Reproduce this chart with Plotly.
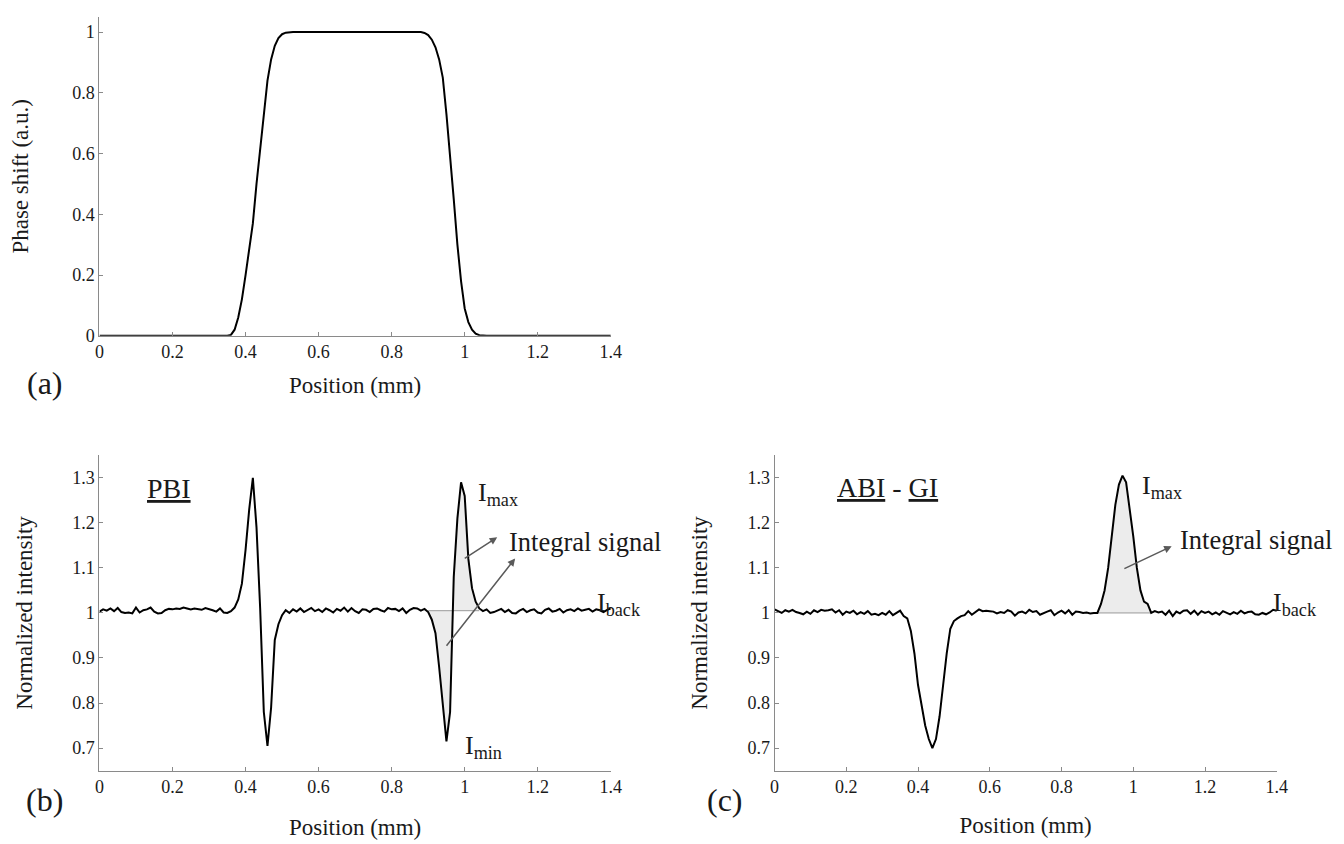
import plotly.graph_objects as go

# ---------------- data ----------------
# sampling positions (mm), 0.00 ... 1.40 in 0.01 steps
position_mm = [round(i * 0.01, 2) for i in range(141)]

# (a) phase shift profile
phase_shift = (
    [0.0] * 36 +                       # 0.00 - 0.35
    [0.003, 0.02, 0.06, 0.12, 0.20, 0.28, 0.37, 0.50,
     0.62, 0.74, 0.84, 0.91, 0.955, 0.98, 0.993, 0.998] +   # 0.36 - 0.51
    [1.0] * 37 +                       # 0.52 - 0.88
    [0.997, 0.99, 0.975, 0.95, 0.91, 0.85, 0.73, 0.60,
     0.45, 0.30, 0.18, 0.09, 0.045, 0.02, 0.007, 0.002] +   # 0.89 - 1.04
    [0.0] * 36                         # 1.05 - 1.40
)

# (b) PBI normalized intensity
pbi_intensity = [
    1.003, 1.008, 1.005, 1.010, 1.004, 1.011, 1.002, 1.000, 1.001, 0.999,   # 0.00-0.09
    1.012, 1.001, 1.006, 1.008, 1.012, 1.003, 0.999, 1.000, 1.006, 1.009,   # 0.10-0.19
    1.008, 1.010, 1.009, 1.012, 1.010, 1.008, 1.010, 1.009, 1.007, 1.011,   # 0.20-0.29
    1.009, 1.006, 1.003, 1.010, 1.001, 1.000, 1.004, 1.012, 1.030, 1.065,   # 0.30-0.39
    1.140, 1.230, 1.300, 1.190, 1.010, 0.780, 0.705, 0.790, 0.940, 0.975,   # 0.40-0.49
    0.995, 1.006, 1.000, 1.008, 1.003, 1.010, 1.002, 1.007, 1.011, 1.004,   # 0.50-0.59
    1.008, 1.002, 1.010, 1.006, 1.001, 1.009, 1.005, 1.012, 1.003, 1.011,   # 0.60-0.69
    1.004, 1.000, 1.008, 1.007, 1.002, 1.009, 1.010, 1.006, 1.003, 1.011,   # 0.70-0.79
    1.008, 1.009, 1.004, 1.010, 1.000, 1.007, 1.011, 1.010, 1.005, 1.009,   # 0.80-0.89
    1.002, 0.985, 0.955, 0.880, 0.790, 0.715, 0.780, 1.080, 1.210, 1.290,   # 0.90-0.99
    1.260, 1.120, 1.055, 1.025, 1.010, 1.004, 1.008, 1.000, 1.002, 1.006,   # 1.00-1.09
    1.009, 1.002, 1.007, 1.000, 0.999, 1.005, 1.009, 1.002, 1.006, 1.008,   # 1.10-1.19
    1.001, 0.999, 1.007, 1.010, 1.003, 1.005, 1.009, 1.001, 1.006, 1.008,   # 1.20-1.29
    1.004, 1.010, 1.005, 1.007, 1.009, 1.003, 1.008, 1.006, 1.002, 1.007,   # 1.30-1.39
    1.010,                                                                  # 1.40
]

# (c) ABI - GI normalized intensity
abi_gi_intensity = [
    1.008, 1.004, 1.000, 1.006, 1.003, 1.007, 1.002, 1.000, 0.997, 1.003,   # 0.00-0.09
    0.998, 1.006, 1.002, 1.007, 1.005, 1.006, 1.008, 1.001, 1.006, 0.996,   # 0.10-0.19
    1.003, 1.000, 1.005, 0.997, 1.002, 0.998, 1.004, 0.996, 0.998, 0.995,   # 0.20-0.29
    1.000, 0.996, 1.004, 0.995, 1.000, 1.005, 0.993, 0.988, 0.960, 0.910,   # 0.30-0.39
    0.840, 0.790, 0.750, 0.720, 0.700, 0.720, 0.770, 0.840, 0.910, 0.965,   # 0.40-0.49
    0.982, 0.988, 0.993, 0.995, 1.004, 0.996, 1.003, 1.008, 1.004, 1.005,   # 0.50-0.59
    1.004, 1.003, 0.999, 1.002, 1.000, 1.006, 1.003, 0.994, 1.001, 1.003,   # 0.60-0.69
    0.999, 1.007, 1.002, 1.004, 0.996, 1.000, 1.003, 1.006, 0.995, 1.001,   # 0.70-0.79
    1.005, 0.999, 1.006, 0.996, 1.003, 1.002, 1.000, 1.001, 0.999, 1.000,   # 0.80-0.89
    1.000, 1.020, 1.050, 1.100, 1.170, 1.240, 1.285, 1.305, 1.290, 1.235,   # 0.90-0.99
    1.170, 1.100, 1.050, 1.025, 1.020, 1.000, 1.004, 1.001, 1.003, 0.996,   # 1.00-1.09
    1.005, 0.993, 1.003, 0.999, 1.005, 1.006, 0.998, 1.005, 0.996, 1.004,   # 1.10-1.19
    1.000, 1.003, 0.997, 1.001, 0.996, 1.004, 1.000, 0.997, 1.002, 0.998,   # 1.20-1.29
    1.005, 0.999, 1.002, 1.003, 0.997, 0.996, 1.000, 0.997, 1.001, 1.007,   # 1.30-1.39
    1.005,                                                                  # 1.40
]

# background levels and shaded (integral signal) ranges
i_back_pbi = 1.005
i_back_abi = 1.000
shade_pbi = (0.90, 1.04)
shade_abi = (0.90, 1.05)

x_ticks = [0, 0.2, 0.4, 0.6, 0.8, 1.0, 1.2, 1.4]
x_ticklabels = ["0", "0.2", "0.4", "0.6", "0.8", "1", "1.2", "1.4"]
ya_ticks = [0, 0.2, 0.4, 0.6, 0.8, 1.0]
ya_ticklabels = ["0", "0.2", "0.4", "0.6", "0.8", "1"]
yb_ticks = [0.7, 0.8, 0.9, 1.0, 1.1, 1.2, 1.3]
yb_ticklabels = ["0.7", "0.8", "0.9", "1", "1.1", "1.2", "1.3"]

# ---------------- styling ----------------
FONT = "Liberation Serif, Times New Roman, serif"
W, H = 1344, 844
AXC = "#8a8a8a"
TXT = "#1a1a1a"


def px_x(p):
    return p / W


def px_y(p):
    return 1 - p / H


fig = go.Figure()

# (a)
fig.add_trace(go.Scatter(x=position_mm, y=phase_shift, mode="lines",
                         line=dict(color="black", width=2),
                         xaxis="x", yaxis="y", showlegend=False))


def add_shaded(xs, ys, back, rng, xa, ya):
    i0 = xs.index(rng[0])
    i1 = xs.index(rng[1])
    sx = xs[i0:i1 + 1]
    sy = ys[i0:i1 + 1]
    fig.add_trace(go.Scatter(x=sx, y=[back] * len(sx), mode="lines",
                             line=dict(color="#9a9a9a", width=1),
                             xaxis=xa, yaxis=ya, showlegend=False, hoverinfo="skip"))
    fig.add_trace(go.Scatter(x=sx, y=sy, mode="lines", fill="tonexty",
                             fillcolor="#ececec", line=dict(width=0, color="rgba(0,0,0,0)"),
                             xaxis=xa, yaxis=ya, showlegend=False, hoverinfo="skip"))


# (b)
add_shaded(position_mm, pbi_intensity, i_back_pbi, shade_pbi, "x2", "y2")
fig.add_trace(go.Scatter(x=position_mm, y=pbi_intensity, mode="lines",
                         line=dict(color="black", width=2),
                         xaxis="x2", yaxis="y2", showlegend=False))
# (c)
add_shaded(position_mm, abi_gi_intensity, i_back_abi, shade_abi, "x3", "y3")
fig.add_trace(go.Scatter(x=position_mm, y=abi_gi_intensity, mode="lines",
                         line=dict(color="black", width=2),
                         xaxis="x3", yaxis="y3", showlegend=False))

tickfont = dict(family=FONT, size=18, color=TXT)
titlefont = dict(family=FONT, size=23, color=TXT)


def xaxis(domain, anchor, standoff):
    return dict(domain=domain, anchor=anchor, range=[0, 1.4],
                tickvals=x_ticks, ticktext=x_ticklabels, ticks="inside", ticklen=4,
                tickcolor=AXC, showline=True, linecolor=AXC, linewidth=1,
                showgrid=False, zeroline=False, tickfont=tickfont,
                title=dict(text="Position (mm)", font=titlefont, standoff=standoff))


def yaxis(domain, anchor, rng, tv, tt, title, standoff):
    return dict(domain=domain, anchor=anchor, range=rng,
                tickvals=tv, ticktext=tt, ticks="inside", ticklen=4,
                tickcolor=AXC, showline=True, linecolor=AXC, linewidth=1,
                showgrid=False, zeroline=False, tickfont=tickfont,
                title=dict(text=title, font=titlefont, standoff=standoff))


xa_dom = [px_x(87.5), px_x(605)]
xc_dom = [px_x(770.7), px_x(1279)]
ya_dom = [px_y(331.7), px_y(9)]
yb_dom = [px_y(771.7), px_y(452.7)]

fig.update_layout(
    width=W, height=H,
    margin=dict(l=0, r=0, t=0, b=0),
    font=dict(family=FONT, color=TXT),
    paper_bgcolor="white", plot_bgcolor="white",
    xaxis=xaxis(xa_dom, "y", 15),
    yaxis=yaxis(ya_dom, "x", [0, 1.05], ya_ticks, ya_ticklabels, "Phase shift (a.u.)", 38),
    xaxis2=xaxis(xa_dom, "y2", 22),
    yaxis2=yaxis(yb_dom, "x2", [0.65, 1.35], yb_ticks, yb_ticklabels, "Normalized intensity", 33),
    xaxis3=xaxis(xc_dom, "y3", 20),
    yaxis3=yaxis(yb_dom, "x3", [0.65, 1.35], yb_ticks, yb_ticklabels, "Normalized intensity", 33),
)

ann = []
big = dict(family=FONT, size=32, color=TXT)
lab = dict(family=FONT, size=26, color=TXT)
sig = dict(family=FONT, size=26.5, color=TXT)
und = dict(family=FONT, size=28, color=TXT)

# panel letters
for letter, cx, cy in (("(a)", 32, 380), ("(b)", 32, 801), ("(c)", 721, 801)):
    ann.append(dict(text=letter, x=px_x(cx), y=px_y(cy), xref="paper", yref="paper",
                    xanchor="center", yanchor="middle", showarrow=False, font=big))

# panel (b) labels
ann.append(dict(text="<u>PBI</u>", x=0.19, y=1.276, xref="x2", yref="y2",
                xanchor="center", showarrow=False, font=und))
ann.append(dict(text="I<sub>max</sub>", x=1.03, y=1.265, xref="x2", yref="y2",
                xanchor="left", showarrow=False, font=lab))
ann.append(dict(text="Integral signal", x=1.115, y=1.158, xref="x2", yref="y2",
                xanchor="left", showarrow=False, font=sig))
ann.append(dict(text="I<sub>back</sub>", x=1.358, y=1.02, xref="x2", yref="y2",
                xanchor="left", showarrow=False, font=lab))
ann.append(dict(text="I<sub>min</sub>", x=0.995, y=0.703, xref="x2", yref="y2",
                xanchor="left", showarrow=False, font=lab))
arrow = dict(showarrow=True, arrowhead=2, arrowsize=1, arrowwidth=1.5,
             arrowcolor="#5a5a5a", text="")
ann.append(dict(x=1.089, y=1.168, ax=0.996, ay=1.119, xref="x2", yref="y2",
                axref="x2", ayref="y2", **arrow))
ann.append(dict(x=1.138, y=1.121, ax=0.947, ay=0.924, xref="x2", yref="y2",
                axref="x2", ayref="y2", **arrow))

# panel (c) labels
ann.append(dict(text="<u>ABI</u> - <u>GI</u>", x=0.315, y=1.278, xref="x3", yref="y3",
                xanchor="center", showarrow=False, font=und))
ann.append(dict(text="I<sub>max</sub>", x=1.018, y=1.28, xref="x3", yref="y3",
                xanchor="left", showarrow=False, font=lab))
ann.append(dict(text="Integral signal", x=1.126, y=1.163, xref="x3", yref="y3",
                xanchor="left", showarrow=False, font=sig))
ann.append(dict(text="I<sub>back</sub>", x=1.385, y=1.02, xref="x3", yref="y3",
                xanchor="left", showarrow=False, font=lab))
ann.append(dict(x=1.107, y=1.148, ax=0.971, ay=1.097, xref="x3", yref="y3",
                axref="x3", ayref="y3", **arrow))

fig.update_layout(annotations=ann)

fig.write_html("out.html")
